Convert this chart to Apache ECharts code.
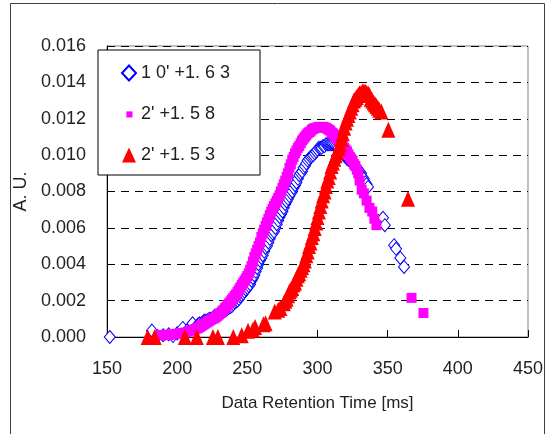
<!DOCTYPE html>
<html>
<head>
<meta charset="utf-8">
<script src="https://cdn.jsdelivr.net/npm/echarts@6/dist/echarts.min.js"></script>
<style>
html, body { margin: 0; padding: 0; background: #fff; }
#chart { width: 549px; height: 434px; }
</style>
</head>
<body>
<div id="chart"></div>
<script>
// series names as printed in the legend
var seriesNames = ["1 0' +1. 6 3", "2' +1. 5 8", "2' +1. 5 3"];

// x axis ticks (ms) and y axis ticks (A.U.)
var xTicks = [150, 200, 250, 300, 350, 400, 450];
var yTicks = [0, 0.002, 0.004, 0.006, 0.008, 0.010, 0.012, 0.014, 0.016];

// [retention time ms, A.U.]
var blueData = [
  [152, 0], [182, 0.00035], [186, 0.00005], [190, 0.0001], [194, 0.00015], [197, 0.00005],
  [200, 0.0002], [204, 0.0005], [207, 0.00035], [211, 0.00075], [214, 0.0006], [215, 0.0007],
  [216, 0.00075], [217, 0.0007], [218, 0.0008], [219, 0.00088], [220, 0.0009], [221, 0.00088],
  [222, 0.00095], [223, 0.001], [224, 0.001], [225, 0.00102], [226, 0.0011], [227, 0.00118],
  [228, 0.0012], [229, 0.00122], [230, 0.0013], [231, 0.00138], [232, 0.0014], [233, 0.0014],
  [234, 0.00145], [235, 0.0015], [236, 0.00155], [237, 0.00162], [238, 0.00165], [239, 0.0017],
  [240, 0.0018], [241, 0.0019], [242, 0.00195], [243, 0.002], [244, 0.0021], [245, 0.00222],
  [246, 0.0023], [247, 0.0024], [248, 0.0025], [249, 0.0026], [250, 0.0027], [251, 0.0028],
  [252, 0.0029], [253, 0.0031], [254, 0.00325], [255, 0.0034], [256, 0.0036], [257, 0.0038],
  [258, 0.004], [259, 0.0042], [260, 0.00435], [261, 0.0045], [262, 0.0047], [263, 0.0049],
  [264, 0.005], [265, 0.0052], [266, 0.0054], [267, 0.0056], [268, 0.0057], [269, 0.0058],
  [270, 0.006], [271, 0.0062], [272, 0.0064], [273, 0.0066], [274, 0.00675], [275, 0.0069],
  [276, 0.0071], [277, 0.0073], [278, 0.00745], [279, 0.0076], [280, 0.00775], [281, 0.0079],
  [282, 0.008], [283, 0.0082], [284, 0.00835], [285, 0.0085], [286, 0.0087], [287, 0.0089],
  [288, 0.009], [289, 0.0091], [290, 0.0093], [291, 0.0094], [292, 0.00955], [293, 0.0097],
  [294, 0.0098], [295, 0.0099], [296, 0.00995], [297, 0.01], [298, 0.0101], [299, 0.0102],
  [300, 0.0103], [301, 0.0104], [302, 0.0104], [303, 0.0104], [304, 0.0105], [305, 0.0105],
  [306, 0.0106], [307, 0.0106], [308, 0.0106], [309, 0.0106], [310, 0.0106], [311, 0.0106],
  [312, 0.01055], [313, 0.0105], [314, 0.01045], [315, 0.0104], [316, 0.0103], [317, 0.0102],
  [318, 0.0101], [319, 0.01], [320, 0.0099], [321, 0.0098], [322, 0.00975], [323, 0.0097],
  [324, 0.0096], [325, 0.0095], [326, 0.00945], [327, 0.0094], [328, 0.0093], [329, 0.0092],
  [330, 0.0091], [331, 0.009], [332, 0.0088], [333, 0.0087], [334, 0.0085], [335, 0.0084],
  [336, 0.00825], [346.7, 0.00655], [348, 0.00615], [354.6, 0.00505], [356, 0.00485],
  [359, 0.00435], [361.7, 0.00385]
];

var magentaData = [
  [188, 0.0001], [190, 0.0001], [192, 0.00012], [194, 0.0001], [196, 0.00015], [198, 0.00015],
  [200, 0.00018], [202, 0.0002], [204, 0.00022], [206, 0.00025], [208, 0.0003], [210, 0.00035],
  [212, 0.0004], [213, 0.00043], [214, 0.00047], [215, 0.0005], [216, 0.00055], [217, 0.0006],
  [218, 0.00065], [219, 0.0007], [220, 0.00075], [221, 0.0008], [222, 0.00085], [223, 0.0009],
  [224, 0.00095], [225, 0.001], [226, 0.00102], [227, 0.00107], [228, 0.00112], [229, 0.00118],
  [230, 0.00125], [231, 0.00132], [232, 0.0014], [233, 0.00148], [234, 0.00158], [235, 0.00165],
  [236, 0.00175], [237, 0.00185], [238, 0.00195], [239, 0.00205], [240, 0.00215], [241, 0.00225],
  [242, 0.00235], [243, 0.00248], [244, 0.0026], [245, 0.00272], [246, 0.00285], [247, 0.00298],
  [248, 0.0031], [249, 0.00322], [250, 0.00335], [251, 0.0035], [252, 0.0037], [253, 0.0039],
  [254, 0.00415], [255, 0.0044], [256, 0.0046], [257, 0.0048], [258, 0.005], [259, 0.0052],
  [260, 0.0055], [261, 0.0057], [262, 0.0059], [263, 0.0061], [264, 0.0063], [265, 0.0065],
  [266, 0.0067], [267, 0.0069], [268, 0.00705], [269, 0.0072], [270, 0.00735], [271, 0.0075],
  [272, 0.00765], [273, 0.0078], [274, 0.008], [275, 0.0082], [276, 0.0084], [277, 0.0086],
  [278, 0.0088], [279, 0.009], [280, 0.0093], [281, 0.0095], [282, 0.00975], [283, 0.0099],
  [284, 0.0101], [285, 0.01025], [286, 0.0104], [287, 0.0105], [288, 0.01065], [289, 0.0108],
  [290, 0.0109], [291, 0.011], [292, 0.0111], [293, 0.0112], [294, 0.01125], [295, 0.0113],
  [296, 0.0114], [297, 0.01145], [298, 0.01148], [299, 0.0115], [300, 0.01152], [301, 0.01155],
  [302, 0.01155], [303, 0.01155], [304, 0.01155], [305, 0.01152], [306, 0.0115], [307, 0.01145],
  [308, 0.0114], [309, 0.01135], [310, 0.01125], [311, 0.0112], [312, 0.0111], [313, 0.011],
  [314, 0.0109], [315, 0.0108], [316, 0.0107], [317, 0.0106], [318, 0.0105], [319, 0.0104],
  [320, 0.0103], [321, 0.0102], [322, 0.01005], [323, 0.0099], [324, 0.0098], [325, 0.0097],
  [326, 0.0095], [327, 0.0094], [328, 0.0092], [329, 0.009], [330, 0.0086], [331.5, 0.0081],
  [333, 0.0079], [335, 0.0075], [337, 0.0071], [339, 0.0069], [340.5, 0.0065], [342, 0.00615],
  [367, 0.00215], [375.5, 0.00132]
];

var redData = [
  [179, 0], [184, 0], [205.5, 0], [214, 0], [225.5, 0], [229, 0], [240, 0], [246, 0.0001],
  [250.5, 0.00035], [254, 0.0004], [255.5, 0.00055], [261.5, 0.0007], [263, 0.00075],
  [269.5, 0.0014], [272, 0.0015], [273.5, 0.0016], [276, 0.00185], [277, 0.002], [278, 0.0021],
  [279, 0.0023], [280, 0.0025], [281, 0.0026], [282, 0.0027], [283, 0.0029], [284, 0.003],
  [285, 0.0032], [286, 0.0034], [287, 0.0035], [288, 0.0037], [289, 0.00385], [290, 0.004],
  [291, 0.0042], [292, 0.0045], [293, 0.0047], [294, 0.005], [295, 0.0052], [296, 0.0055],
  [297, 0.0057], [298, 0.006], [299, 0.0063], [300, 0.0066], [301, 0.0069], [302, 0.0072],
  [303, 0.0075], [304, 0.0078], [305, 0.008], [306, 0.0083], [307, 0.0086], [308, 0.0088],
  [309, 0.0091], [310, 0.0094], [311, 0.0096], [312, 0.0098], [313, 0.01], [314, 0.0102],
  [315, 0.0104], [316, 0.0106], [317, 0.0109], [318, 0.0112], [319, 0.0115], [320, 0.0118],
  [321, 0.012], [322, 0.0122], [323, 0.0124], [324, 0.0126], [325, 0.0128], [326, 0.013],
  [327, 0.0131], [328, 0.0132], [329, 0.0133], [330, 0.0134], [331, 0.0134], [332, 0.0135],
  [333, 0.0135], [334, 0.0135], [335, 0.0134], [336, 0.0134], [337, 0.0133], [338, 0.0131],
  [339, 0.013], [340, 0.0129], [341, 0.0128], [342, 0.0127], [343, 0.0126], [344, 0.0125],
  [345.5, 0.0124], [350.5, 0.0114], [364.5, 0.0076]
];

var font = "'Liberation Sans', Arial, sans-serif";

var chart = echarts.init(document.getElementById('chart'));

var options = {
  animation: false,
  backgroundColor: '#fff',
  graphic: [{
    type: 'rect',
    z: -10,
    shape: { x: 10.5, y: 3.5, width: 534, height: 440 },
    style: { fill: 'none', stroke: '#404040', lineWidth: 1 }
  }],
  grid: {
    left: 107, right: 21, top: 46, bottom: 97,
    show: true, borderColor: '#808080', borderWidth: 1, backgroundColor: 'transparent'
  },
  legend: {
    orient: 'vertical',
    left: 98, top: 50,
    padding: [14, 30, 11, 23],
    itemGap: 23,
    itemWidth: 14, itemHeight: 15,
    backgroundColor: '#fff',
    borderColor: '#000', borderWidth: 1, borderRadius: 0,
    textStyle: { fontFamily: font, fontSize: 18, color: '#222' },
    data: [
      { name: seriesNames[0], icon: 'diamond' },
      { name: seriesNames[1], icon: 'path://M0,0 M16,16 M5,5 L12,5 L12,12 L5,12 Z' },
      { name: seriesNames[2], icon: 'triangle' }
    ]
  },
  xAxis: {
    type: 'value',
    min: xTicks[0], max: xTicks[xTicks.length - 1], interval: 50,
    name: 'Data Retention Time [ms]',
    nameLocation: 'middle', nameGap: 58,
    nameTextStyle: { fontFamily: font, fontSize: 17, color: '#222' },
    axisLine: { lineStyle: { color: '#000', width: 1 } },
    axisTick: { inside: true, length: 7, lineStyle: { color: '#000' } },
    axisLabel: { fontFamily: font, fontSize: 18, color: '#222', margin: 23 },
    splitLine: { show: false }
  },
  yAxis: {
    type: 'value',
    min: yTicks[0], max: yTicks[yTicks.length - 1], interval: 0.002,
    name: 'A. U.',
    nameLocation: 'middle', nameGap: 54,
    nameTextStyle: { fontFamily: font, fontSize: 18, color: '#222' },
    axisLine: { show: true, lineStyle: { color: '#000', width: 1 } },
    axisTick: { show: true, inside: true, length: 5, lineStyle: { color: '#000' } },
    axisLabel: {
      fontFamily: font, fontSize: 18, color: '#222', margin: 21,
      formatter: function (v) { return v.toFixed(3); }
    },
    splitLine: { show: true, lineStyle: { color: '#000', width: 1, type: [8, 6] } }
  },
  series: [
    {
      name: seriesNames[0], type: 'scatter', data: blueData,
      symbol: 'diamond', symbolSize: [11, 13],
      itemStyle: { color: '#fff', borderColor: '#0000ff', borderWidth: 1, opacity: 1 }
    },
    {
      name: seriesNames[1], type: 'scatter', data: magentaData,
      symbol: 'rect', symbolSize: 10,
      itemStyle: { color: '#ff00ff', opacity: 1 }
    },
    {
      name: seriesNames[2], type: 'scatter', data: redData,
      symbol: 'triangle', symbolSize: [14, 16],
      itemStyle: { color: '#ff0000', opacity: 1 }
    }
  ]
};

chart.setOption(options);
</script>
</body>
</html>
